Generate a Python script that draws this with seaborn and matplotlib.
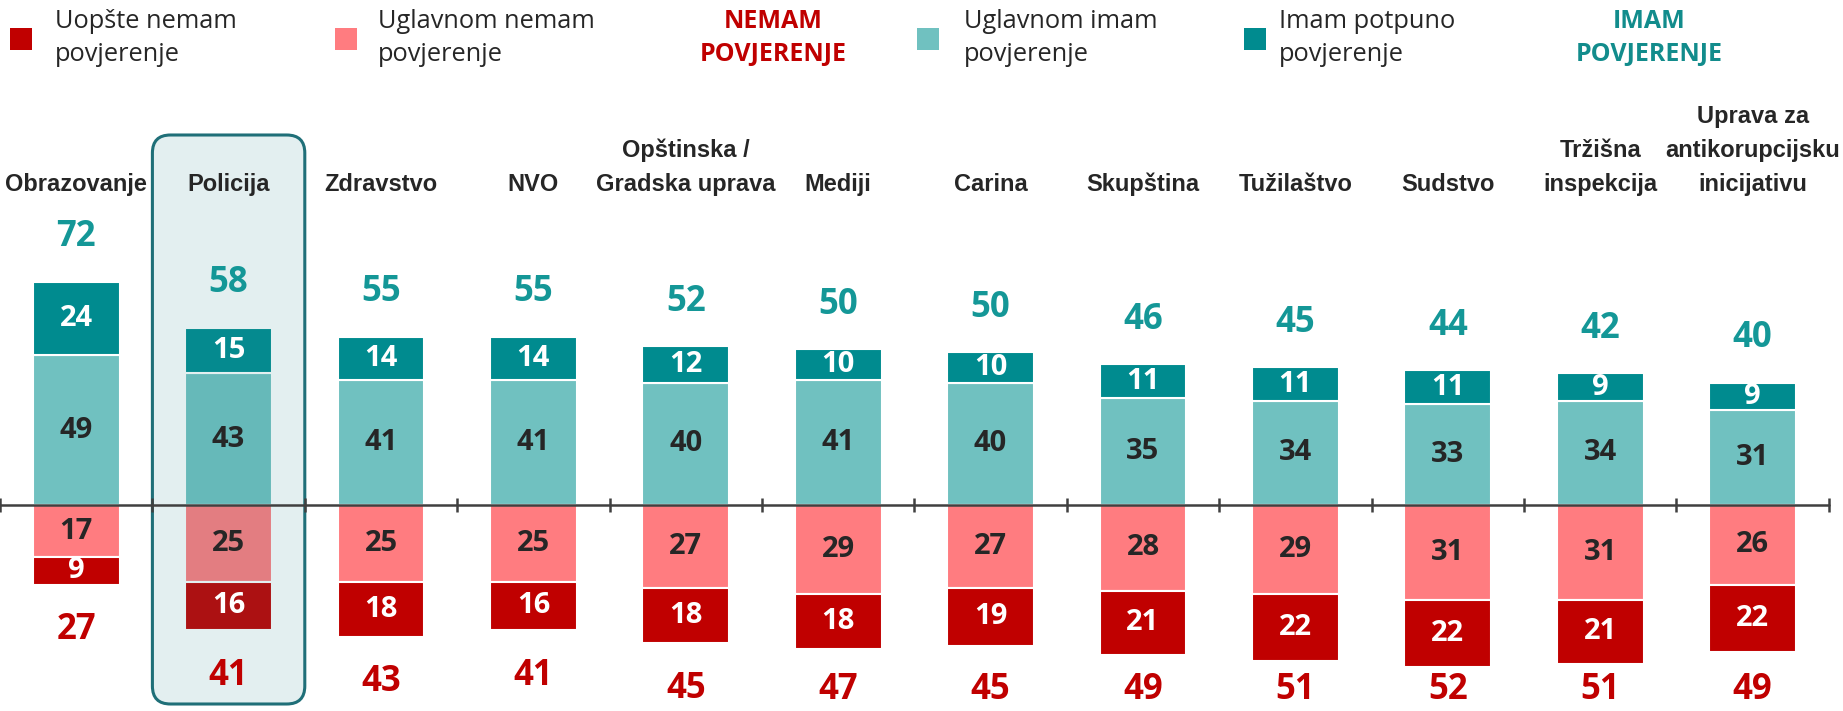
import matplotlib
matplotlib.use('Agg')
import matplotlib.pyplot as plt
from matplotlib.patches import FancyBboxPatch, Rectangle
import numpy as np
import pandas as pd
import seaborn as sns

# podaci
categories = ['Obrazovanje', 'Policija', 'Zdravstvo', 'NVO', 'Opštinska /\nGradska uprava', 'Mediji',
              'Carina', 'Skupština', 'Tužilaštvo', 'Sudstvo', 'Tržišna\ninspekcija',
              'Uprava za\nantikorupcijsku\ninicijativu']
imam_potpuno = [24, 15, 14, 14, 12, 10, 10, 11, 11, 11, 9, 9]
uglavnom_imam = [49, 43, 41, 41, 40, 41, 40, 35, 34, 33, 34, 31]
uglavnom_nemam = [17, 25, 25, 25, 27, 29, 27, 28, 29, 31, 31, 26]
uopste_nemam = [9, 16, 18, 16, 18, 18, 19, 21, 22, 22, 21, 22]
imam_ukupno = [72, 58, 55, 55, 52, 50, 50, 46, 45, 44, 42, 40]
nemam_ukupno = [27, 41, 43, 41, 45, 47, 45, 49, 51, 52, 51, 49]

legend_labels = ['Uopšte nemam\npovjerenje', 'Uglavnom nemam\npovjerenje',
                 'Uglavnom imam\npovjerenje', 'Imam potpuno\npovjerenje']

c_dark_red = '#C00000'
c_light_red = '#FF7C80'
c_light_teal = '#70C1C0'
c_dark_teal = '#008B8F'
c_text = '#262626'

sns.set_theme(style='white')

W, H = 1843, 711
fig = plt.figure(figsize=(W / 100, H / 100), dpi=100)
ax = fig.add_axes([0, 0, 1, 1])

df = pd.DataFrame({
    'kat': categories,
    'potpuno': imam_potpuno,
    'uglavnom_imam': uglavnom_imam,
    'uglavnom_nemam': uglavnom_nemam,
    'uopste': uopste_nemam,
})
df['neg1'] = -df['uglavnom_nemam']
df['neg2'] = -df['uopste']

bw = 0.57
common = dict(x='kat', ax=ax, width=bw, errorbar=None, edgecolor='white', linewidth=1.5, zorder=2)
sns.barplot(data=df, y='uglavnom_imam', color=c_light_teal, saturation=1, **common)
sns.barplot(data=df, y='potpuno', bottom=df['uglavnom_imam'], color=c_dark_teal, saturation=1, **common)
sns.barplot(data=df, y='neg1', color=c_light_red, saturation=1, **common)
sns.barplot(data=df, y='neg2', bottom=df['neg1'], color=c_dark_red, saturation=1, **common)

px_unit = 3.06
zero_px = 505
x_px = 152.4
ax.set_xlim(-0.5, -0.5 + W / x_px)
ax.set_ylim(-(H - zero_px) / px_unit, zero_px / px_unit)
ax.axis('off')

# nulta linija s podjelama
n = len(categories)
ax.plot([-0.5, n - 0.5], [0, 0], color='#404040', lw=1.8, zorder=4)
ax.vlines(np.arange(n + 1) - 0.5, -2.4, 2.4, color='#404040', lw=1.8, zorder=4)

# oznaka za Policiju
pi = categories.index('Policija')
y_top = (zero_px - 135) / px_unit
y_bot = (zero_px - 704) / px_unit
r = 18 / x_px
box = FancyBboxPatch((pi - 0.5, y_bot), 1.0, y_top - y_bot,
                     boxstyle=f'round,pad=0,rounding_size={r}',
                     mutation_aspect=x_px / px_unit,
                     facecolor=(0.16, 0.54, 0.56, 0.13), edgecolor='#1F6F78', lw=2.2, zorder=3)
ax.add_patch(box)

num_font = 'Open Sans'
in_size = 21
tot_size = 25
for i in range(n):
    a = uglavnom_imam[i]
    b = imam_potpuno[i]
    c = uglavnom_nemam[i]
    d = uopste_nemam[i]
    ax.text(i, a / 2, str(a), ha='center', va='center', fontsize=in_size, fontweight='bold',
            color=c_text, family=num_font, zorder=5)
    ax.text(i, a + b / 2, str(b), ha='center', va='center', fontsize=in_size, fontweight='bold',
            color='white', family=num_font, zorder=5)
    ax.text(i, -c / 2, str(c), ha='center', va='center', fontsize=in_size, fontweight='bold',
            color=c_text, family=num_font, zorder=5)
    ax.text(i, -c - d / 2, str(d), ha='center', va='center', fontsize=in_size, fontweight='bold',
            color='white', family=num_font, zorder=5)
    ax.text(i, a + b + 14.5, str(imam_ukupno[i]), ha='center', va='center', fontsize=tot_size,
            fontweight='bold', color='#149797', family=num_font, zorder=5)
    ax.text(i, max(-(c + d) - 15, -60.3), str(nemam_ukupno[i]), ha='center', va='center',
            fontsize=tot_size, fontweight='bold', color=c_dark_red, family=num_font, zorder=5)
    ax.text(i, (zero_px - 191) / px_unit, categories[i], ha='center', va='baseline',
            fontsize=17, fontweight='bold', color=c_text, family='Liberation Sans',
            linespacing=1.6, zorder=5)

# legenda
def fx(p):
    return p / W

def fy(p):
    return 1 - p / H

leg_colors = [c_dark_red, c_light_red, c_light_teal, c_dark_teal]
marker_x = [10, 335, 917, 1244]
text_x = [55, 378, 964, 1279]
for lab, col, mx, tx in zip(legend_labels, leg_colors, marker_x, text_x):
    fig.patches.append(Rectangle((fx(mx), fy(50)), fx(22), 22 / H, transform=fig.transFigure,
                                 facecolor=col, edgecolor='none'))
    fig.text(fx(tx), fy(38), lab, ha='left', va='center', fontsize=18.3, color=c_text,
             family='Open Sans', linespacing=1.45)

fig.text(fx(773), fy(38), 'NEMAM\nPOVJERENJE', ha='center', va='center', fontsize=18,
         fontweight='bold', color=c_dark_red, family='Open Sans', linespacing=1.4)
fig.text(fx(1649), fy(38), 'IMAM\nPOVJERENJE', ha='center', va='center', fontsize=18,
         fontweight='bold', color='#128C8C', family='Open Sans', linespacing=1.4)

fig.savefig('out.png', dpi=100, facecolor='white')
